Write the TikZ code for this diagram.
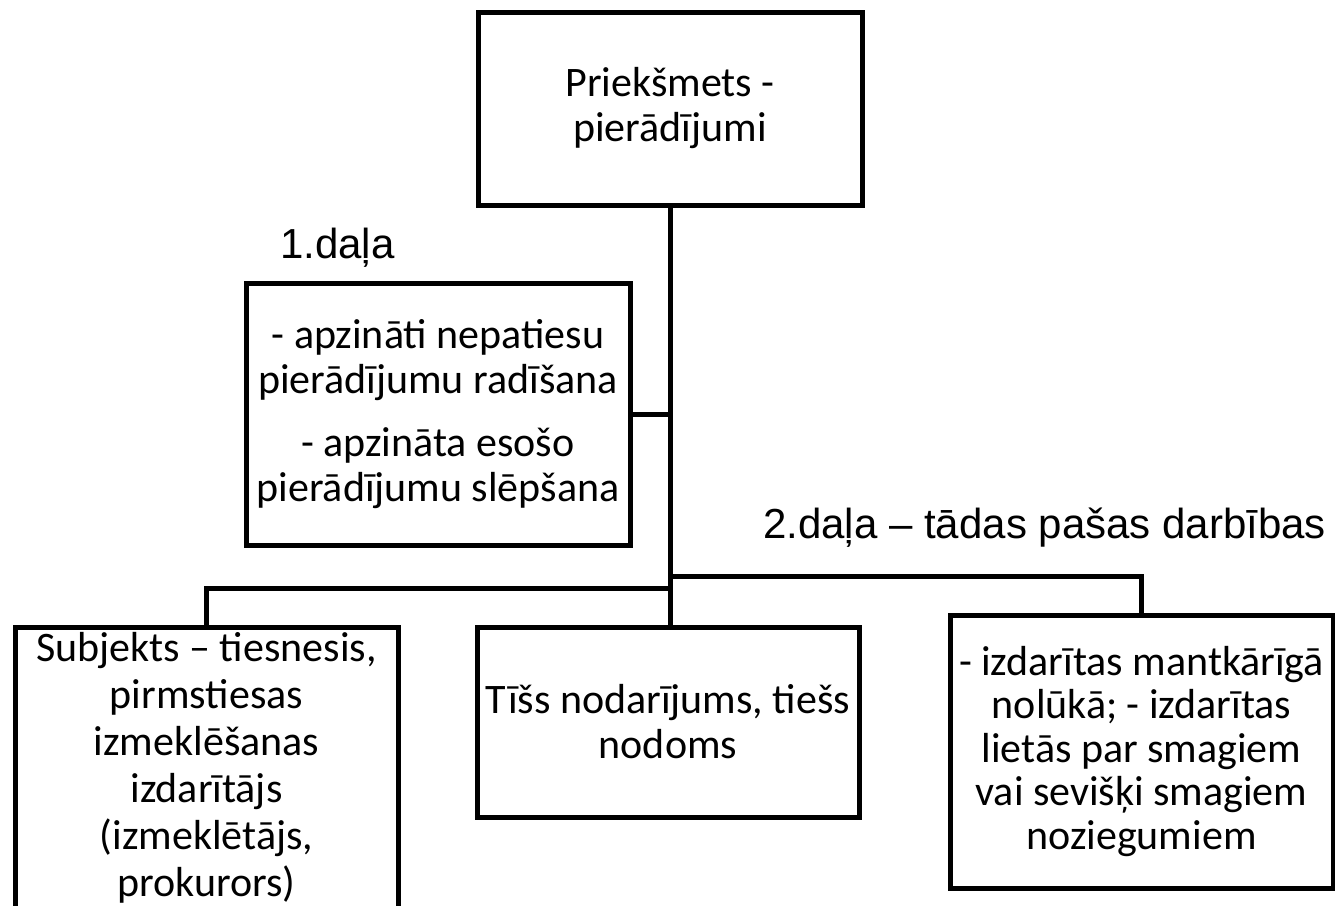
\documentclass[tikz,border=0pt]{standalone}
\usepackage{fontspec}
\setmainfont{Carlito}
\newfontfamily\labfont{Liberation Sans}
\begin{document}
\begin{tikzpicture}[x=1pt,y=-1pt,
  box/.style={draw=black, line width=5pt, rectangle, align=center, inner sep=0pt, font=\fontsize{42}{45}\selectfont},
  conn/.style={draw=black, line width=5pt},
  lab/.style={anchor=base west, inner sep=0pt, font=\labfont\fontsize{42}{48}\selectfont}]
\useasboundingbox (0,0) rectangle (1335,905);
\begin{scope}
\clip (0,0) rectangle (1335,905);
\node[box, minimum width=384pt, minimum height=193pt] (top) at (670,108.5) {Priekšmets -\\pierādījumi};
\node[box, minimum width=384pt, minimum height=262pt] (left) at (438,414) {- apzināti nepatiesu\\pierādījumu radīšana\\[18pt]- apzināta esošo\\pierādījumu slēpšana};
\node[box, minimum width=383pt, minimum height=281pt, font=\fontsize{42}{47}\selectfont] (bl) at (206.5,767.5) {Subjekts – tiesnesis,\\pirmstiesas\\izmeklēšanas\\izdarītājs\\(izmeklētājs,\\prokurors)};
\node[box, minimum width=382pt, minimum height=190pt] (mid) at (668,722) {Tīšs nodarījums, tiešs\\nodoms};
\node[box, minimum width=383pt, minimum height=273pt, font=\fontsize{42}{43.5}\selectfont] (right) at (1141.5,751.5) {- izdarītas mantkārīgā\\nolūkā; - izdarītas\\lietās par smagiem\\vai sevišķi smagiem\\noziegumiem};
\coordinate (busR) at (670,576);
\coordinate (busL) at (670,588);
\draw[conn] (top.south) -- (top.south |- mid.north);
\draw[conn] (left.east) -- (left.east -| top.south);
\draw[conn] (busR) -| (right.north);
\draw[conn] (busL) -| (bl.north);
\node[lab] (lab1) at (280,258) {1.daļa};
\node[lab] (lab2) at (763,538) {2.daļa – tādas pašas darbības};
\end{scope}
\end{tikzpicture}
\end{document}
